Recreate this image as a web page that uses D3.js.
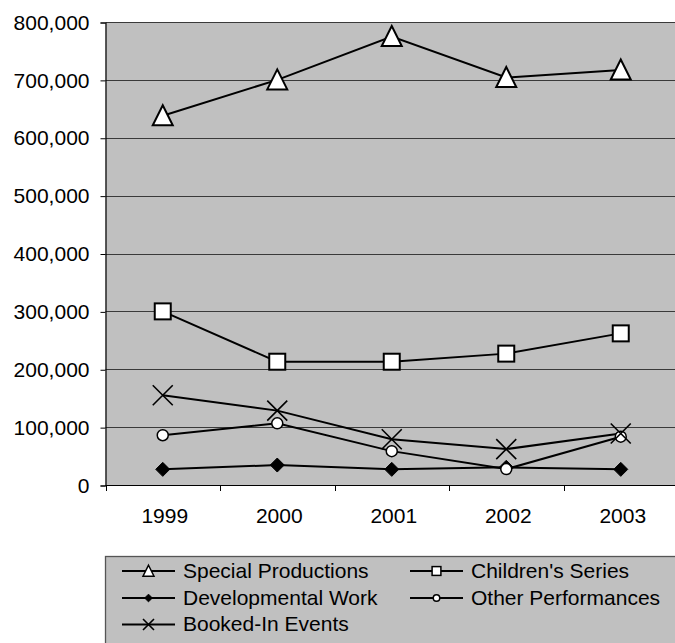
<!DOCTYPE html>
<html>
<head>
<meta charset="utf-8">
<script src="https://cdn.jsdelivr.net/npm/d3@7"></script>
<style>
  html, body { margin: 0; padding: 0; background: #ffffff; }
  svg { display: block; }
  text { font-family: "Liberation Sans", Arial, sans-serif; fill: #000; }
</style>
</head>
<body>
<svg id="chart" width="675" height="643"></svg>
<script>
// Attendance by programme type, 1999–2003
const years = ["1999", "2000", "2001", "2002", "2003"];
const specialProductions = [638000, 700000, 775000, 704000, 717000];
const childrensSeries    = [300000, 213000, 213000, 227000, 262000];
const developmentalWork  = [27000, 34500, 27000, 30500, 27000];
const otherPerformances  = [86000, 106500, 58500, 27500, 83500];
const bookedInEvents     = [155000, 128500, 79000, 62000, 89000];
const yTicks = [0, 100000, 200000, 300000, 400000, 500000, 600000, 700000, 800000];

const series = [
  { name: "Special Productions", values: specialProductions, marker: "triangle" },
  { name: "Children's Series",   values: childrensSeries,    marker: "square" },
  { name: "Developmental Work",  values: developmentalWork,  marker: "diamond" },
  { name: "Other Performances",  values: otherPerformances,  marker: "circle" },
  { name: "Booked-In Events",    values: bookedInEvents,     marker: "cross" }
];

const svg = d3.select("#chart");
const plot = { left: 105.5, top: 22, bottom: 485, band: 114.5 };
plot.right = plot.left + plot.band * years.length;

const x = d3.scalePoint().domain(years).range([plot.left, plot.right]).padding(0.5);
const y = d3.scaleLinear().domain([0, 800000]).range([plot.bottom, plot.top]);

// plot background
svg.append("rect")
  .attr("x", plot.left).attr("y", plot.top)
  .attr("width", plot.right - plot.left).attr("height", plot.bottom - plot.top)
  .attr("fill", "#c0c0c0");

// horizontal gridlines
svg.append("g").selectAll("line").data(yTicks.filter(d => d > 0)).join("line")
  .attr("x1", plot.left).attr("x2", plot.right)
  .attr("y1", d => Math.round(y(d)) + 0.5).attr("y2", d => Math.round(y(d)) + 0.5)
  .attr("stroke", "#3a3a3a").attr("stroke-width", 1);

// y axis
const yAxis = d3.axisLeft(y).tickValues(yTicks).tickSize(5).tickPadding(11)
  .tickFormat(d3.format(","));
const gy = svg.append("g").attr("transform", `translate(${plot.left},0.5)`).call(yAxis);
gy.select(".domain").attr("stroke", "#000").attr("stroke-width", 1.2);
gy.selectAll(".tick line").attr("stroke", "#000");
gy.selectAll("text").attr("font-size", 21).style("font-family", "Liberation Sans, Arial, sans-serif");

// x axis with ticks at category boundaries
const boundaries = d3.range(years.length + 1).map(i => plot.left + i * plot.band);
svg.append("line")
  .attr("x1", plot.left).attr("x2", plot.right)
  .attr("y1", plot.bottom + 0.5).attr("y2", plot.bottom + 0.5)
  .attr("stroke", "#000").attr("stroke-width", 1.2);
svg.append("g").selectAll("line").data(boundaries).join("line")
  .attr("x1", d => Math.round(d) + 0.5).attr("x2", d => Math.round(d) + 0.5)
  .attr("y1", plot.bottom).attr("y2", plot.bottom + 6)
  .attr("stroke", "#000");
svg.append("g").selectAll("text").data(years).join("text")
  .attr("x", d => x(d) + 2).attr("y", 523)
  .attr("text-anchor", "middle").attr("font-size", 21)
  .text(d => d);

// marker drawing
function drawMarker(g, type, cx, cy, s) {
  const sw = s > 0.8 ? 2 : 1.5;
  if (type === "triangle") {
    const w = 20 * s, h = 19 * s;
    g.append("path")
      .attr("d", `M${cx},${cy - h / 2 - 1 * s}L${cx + w / 2},${cy + h / 2}L${cx - w / 2},${cy + h / 2}Z`)
      .attr("fill", "#fff").attr("stroke", "#000").attr("stroke-width", sw).attr("stroke-linejoin", "miter");
  } else if (type === "square") {
    const a = 16 * s;
    g.append("rect").attr("x", cx - a / 2).attr("y", cy - a / 2).attr("width", a).attr("height", a)
      .attr("fill", "#fff").attr("stroke", "#000").attr("stroke-width", sw);
  } else if (type === "diamond") {
    const w = 7 * s, h = 7 * s;
    g.append("path").attr("d", `M${cx},${cy - h}L${cx + w},${cy}L${cx},${cy + h}L${cx - w},${cy}Z`)
      .attr("fill", "#000").attr("stroke", "#000").attr("stroke-width", 1);
  } else if (type === "circle") {
    g.append("circle").attr("cx", cx).attr("cy", cy).attr("r", 5 * s + 0.5)
      .attr("fill", "#fff").attr("stroke", "#000").attr("stroke-width", 1.5);
  } else if (type === "cross") {
    const r = 10 * s;
    g.append("path").attr("d", `M${cx - r},${cy - r}L${cx + r},${cy + r}M${cx - r},${cy + r}L${cx + r},${cy - r}`)
      .attr("fill", "none").attr("stroke", "#000").attr("stroke-width", 1.6);
  }
}

// series lines and markers
const line = d3.line().x((d, i) => x(years[i])).y(d => y(d));
const gs = svg.append("g");
series.forEach(s => {
  gs.append("path").datum(s.values).attr("d", line)
    .attr("fill", "none").attr("stroke", "#000").attr("stroke-width", 2);
});
series.forEach(s => {
  const gm = gs.append("g");
  s.values.forEach((v, i) => drawMarker(gm, s.marker, x(years[i]), y(v), 1));
});

// legend
const lg = svg.append("g");
lg.append("rect").attr("x", 105.5).attr("y", 556.5).attr("width", 620).attr("height", 120)
  .attr("fill", "#c0c0c0").attr("stroke", "#555").attr("stroke-width", 1.3);
const cols = [183, 471];
const rows = [577.5, 604.5, 631];
series.forEach((s, i) => {
  const tx = cols[i % 2], ty = rows[Math.floor(i / 2)];
  const ly = ty - 6.5;
  lg.append("line").attr("x1", tx - 61).attr("x2", tx - 8).attr("y1", ly).attr("y2", ly)
    .attr("stroke", "#000").attr("stroke-width", 2);
  drawMarker(lg, s.marker, tx - 34.5, ly, 0.55);
  lg.append("text").attr("x", tx).attr("y", ty).attr("font-size", 21).text(s.name);
});
</script>
</body>
</html>
